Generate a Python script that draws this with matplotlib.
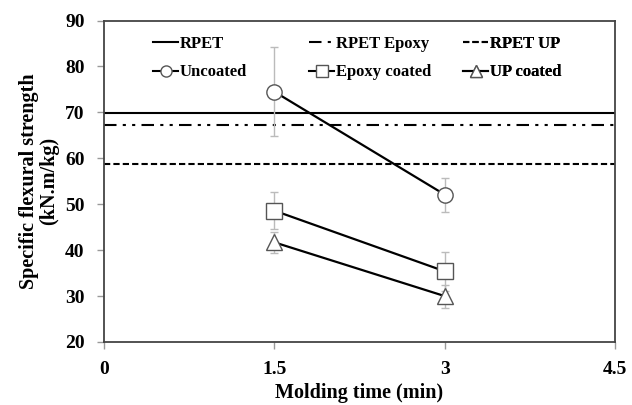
import matplotlib
matplotlib.use("Agg")
import matplotlib.pyplot as plt
from matplotlib.lines import Line2D

plt.rcParams['font.family'] = ['Liberation Serif', 'DejaVu Serif']
plt.rcParams['font.weight'] = 'bold'

time = [1.5, 3.0]
uncoated = [74.5, 52.1]
uncoated_err = [9.7, 3.7]
epoxy = [48.6, 35.4]
epoxy_err = [4.0, 4.2]
up = [41.7, 30.0]
up_err = [2.3, 2.5]
rpet = 69.8
rpet_epoxy = 67.2
rpet_up = 58.7

xticks = [0, 1.5, 3, 4.5]
xtick_labels = ['0', '1.5', '3', '4.5']
yticks = [20, 30, 40, 50, 60, 70, 80, 90]

W, H = 632, 405
fig = plt.figure(figsize=(W/100, H/100), dpi=100)
ax = fig.add_axes([104/W, 1-342/H, (615-104)/W, (342-20.5)/H])

dd = (0, (6, 3, 1.5, 3, 1.5, 3))
ds = (0, (3, 1.5))
ax.axhline(rpet, color='black', lw=1.5, ls='-')
ax.axhline(rpet_epoxy, color='black', lw=1.5, ls=dd)
ax.axhline(rpet_up, color='black', lw=1.5, ls=ds)

mk = dict(mfc='white', mec='#555555', ms=11, mew=1.0, color='black', lw=1.6,
          ecolor='#bbbbbb', elinewidth=1.0, capsize=3, capthick=1.0)
ax.errorbar(time, uncoated, yerr=uncoated_err, marker='o', **mk)
ax.errorbar(time, epoxy, yerr=epoxy_err, marker='s', **mk)
ax.errorbar(time, up, yerr=up_err, marker='^', **mk)

ax.set_xlim(0, 4.5)
ax.set_ylim(20, 90)
ax.set_xticks(xticks)
ax.set_xticklabels(xtick_labels)
ax.set_yticks(yticks)
ax.tick_params(axis='both', direction='out', length=5, width=1, color='#999999',
               labelsize=14)
ax.tick_params(axis='x', pad=9)
ax.tick_params(axis='y', pad=9)
for lab in ax.get_xticklabels() + ax.get_yticklabels():
    lab.set_fontweight('bold')
for s in ax.spines.values():
    s.set_color('#444444')
    s.set_linewidth(1.3)

ax.set_xlabel('Molding time (min)', fontsize=14.5, fontweight='bold', labelpad=3)
ax.set_ylabel('Specific flexural strength\n(kN.m/kg)', fontsize=14.5, fontweight='bold',
              labelpad=4, linespacing=1.0)

lm = dict(color='black', lw=1.5, mfc='white', mec='#555555', ms=8, mew=1.0)
cols = [
    ([Line2D([], [], ls='-', **lm), Line2D([], [], ls='-', marker='o', **lm)],
     ['RPET', 'Uncoated'], 153),
    ([Line2D([], [], ls=dd, **lm), Line2D([], [], ls='-', marker='s', **lm)],
     ['RPET Epoxy', 'Epoxy coated'], 309),
    ([Line2D([], [], ls=ds, **lm), Line2D([], [], ls='-', marker='^', **lm)],
     ['RPET UP', 'UP coated'], 463),
]
for hs, ls_, x0 in cols:
    leg = ax.legend(hs, ls_, loc='upper left', bbox_to_anchor=(x0/W, 1-36/H),
                    bbox_transform=fig.transFigure, frameon=False,
                    prop={'weight': 'bold', 'size': 12}, handlelength=1.5,
                    handletextpad=0.1, labelspacing=0.75, borderpad=0,
                    borderaxespad=0)
    ax.add_artist(leg)

fig.savefig('out.png', dpi=100)
